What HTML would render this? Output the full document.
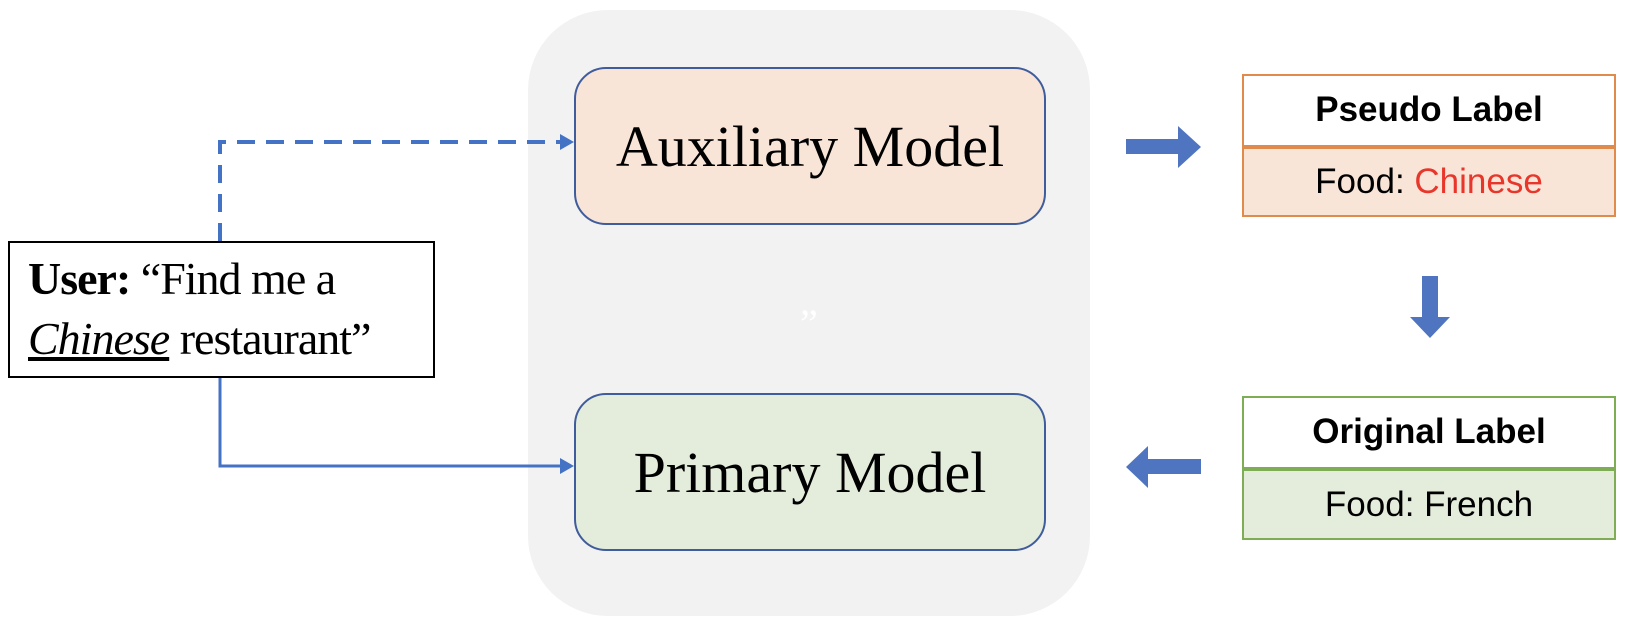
<!DOCTYPE html>
<html><head><meta charset="utf-8"><style>
body{margin:0;width:1631px;height:628px;background:#fff;position:relative;overflow:hidden}
div{position:absolute;box-sizing:border-box}
.serif{font-family:"Liberation Serif",serif}
.sans{font-family:"Liberation Sans",sans-serif}
.model{border:2px solid #3f5c9c;border-radius:32px;display:flex;align-items:center;justify-content:center;font-size:58px;color:#000}
.lbl{display:flex;align-items:center;justify-content:center;font-size:35px}
</style></head><body>
<div style="left:528px;top:10px;width:562px;height:606px;background:#f2f2f2;border-radius:80px"></div>
<div class="model serif" style="left:574px;top:67px;width:472px;height:158px;background:#f8e5d8">Auxiliary Model</div>
<div class="model serif" style="left:574px;top:393px;width:472px;height:158px;background:#e4eddb">Primary Model</div>
<div class="serif" style="left:800px;top:300px;color:#fff;font-size:40px">”</div>
<div class="serif" style="left:8px;top:241px;width:427px;height:137px;border:2px solid #000;padding:6px 0 0 18px;font-size:46px;line-height:60px;white-space:nowrap;letter-spacing:-1px">
<b>User:</b> “Find me a<br><i><u>Chinese</u></i> restaurant”</div>
<svg width="1631" height="628" style="position:absolute;left:0;top:0">
<path d="M220 241 V142 H562" fill="none" stroke="#4472c4" stroke-width="4" stroke-dasharray="18,11"/>
<path d="M560 134 L574 142 L560 150Z" fill="#4472c4"/>
<path d="M220 378 V466 H562" fill="none" stroke="#4472c4" stroke-width="3"/>
<path d="M560 458 L574 466 L560 474Z" fill="#4472c4"/>
<path d="M1126 139 H1178 V126 L1201 147 L1178 168 V154 H1126Z" fill="#4f74c0"/>
<path d="M1422 276 H1438 V317 H1450 L1430 338 L1410 317 H1422Z" fill="#4f74c0"/>
<path d="M1201 459 H1148 V446 L1126 467 L1148 488 V474 H1201Z" fill="#4f74c0"/>
</svg>
<div style="left:1242px;top:74px;width:374px;height:143px;border:2px solid #e08a4c"></div>
<div class="lbl sans" style="left:1242px;top:74px;width:374px;height:72px;font-weight:bold">Pseudo Label</div>
<div class="lbl sans" style="left:1242px;top:145px;width:374px;height:72px;background:#f8e5d8;border:2px solid #e08a4c;border-top:4px solid #e08a4c">Food:&nbsp;<span style="color:#e8362b">Chinese</span></div>
<div style="left:1242px;top:396px;width:374px;height:144px;border:2px solid #7fad55"></div>
<div class="lbl sans" style="left:1242px;top:396px;width:374px;height:72px;font-weight:bold">Original Label</div>
<div class="lbl sans" style="left:1242px;top:467px;width:374px;height:73px;background:#e4eddb;border:2px solid #7fad55;border-top:4px solid #7fad55">Food: French</div>
</body></html>
